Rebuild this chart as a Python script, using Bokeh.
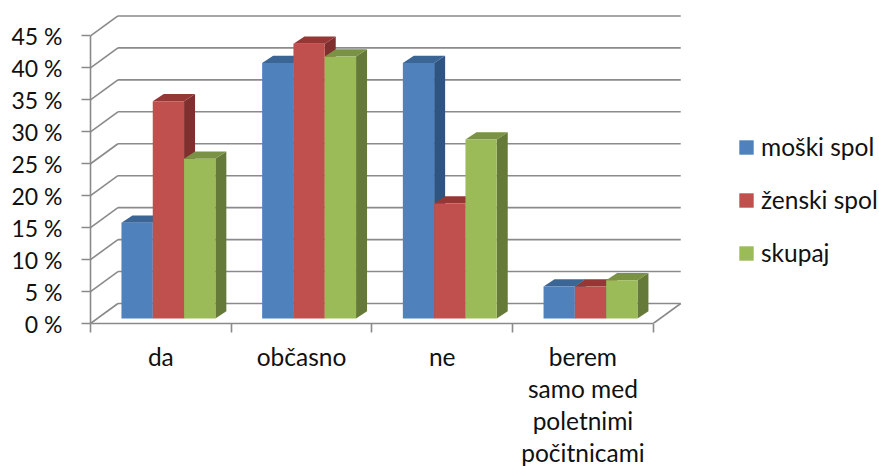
from bokeh.plotting import figure
from bokeh.models import Range1d, FixedTicker, Legend, LegendItem, LinearAxis
from bokeh.embed import file_html
from bokeh.resources import INLINE

# ---------- data ----------
categories = ["da", "občasno", "ne", "berem\nsamo med\npoletnimi\npočitnicami"]
series_names = ["moški spol", "ženski spol", "skupaj"]
moski = [15, 40, 40, 5]
zenski = [34, 43, 18, 5]
skupaj = [25, 41, 28, 6]
y_ticks = [0, 5, 10, 15, 20, 25, 30, 35, 40, 45]
y_labels = [f"{v} %" for v in y_ticks]

# ---------- style ----------
FONT = "Lato"
TXT = "#111111"
GRID = "#8a8a8a"
front_cols = ["#4F81BD", "#C0504D", "#9BBB59"]
top_cols = ["#3A6594", "#953735", "#7A9245"]
side_cols = ["#2F5480", "#7F302E", "#657A38"]

WALL_DX, WALL_DY = 0.195, 3.13      # oblique offset of the back wall
BAR_X0, BAR_Y0 = 0.22, 0.78         # bar base offset inside a category
BAR_W = 0.2225
BAR_DX, BAR_DY = 0.078, 1.14        # bar depth

p = figure(width=879, height=466, frame_width=605, frame_height=323,
           output_backend="svg", toolbar_location=None,
           x_range=Range1d(0, 4.3), y_range=Range1d(0, 50.55),
           x_axis_type=None, y_axis_type=None,
           min_border_left=90, min_border_right=0,
           min_border_top=0, min_border_bottom=0)
p.outline_line_color = None
p.background_fill_color = "white"
p.grid.visible = False

# walls
p.segment(x0=[WALL_DX] * len(y_ticks), x1=[4 + WALL_DX] * len(y_ticks),
          y0=[v + WALL_DY for v in y_ticks], y1=[v + WALL_DY for v in y_ticks],
          line_color=GRID, line_width=1.6)
p.segment(x0=[0] * len(y_ticks), x1=[WALL_DX] * len(y_ticks),
          y0=y_ticks, y1=[v + WALL_DY for v in y_ticks],
          line_color=GRID, line_width=1.6)
p.segment(x0=[4], x1=[4 + WALL_DX], y0=[0], y1=[WALL_DY], line_color=GRID, line_width=1.6)

# bars
legend_items = []
for s, vals in enumerate([moski, zenski, skupaj]):
    lefts = [c + BAR_X0 + s * BAR_W for c in range(len(vals))]
    rights = [x + BAR_W for x in lefts]
    base = BAR_Y0
    side_xs = [[r, r + BAR_DX, r + BAR_DX, r] for r in rights]
    side_ys = [[base, base + BAR_DY, base + v + BAR_DY, base + v] for v in vals]
    top_xs = [[l, l + BAR_DX, r + BAR_DX, r] for l, r in zip(lefts, rights)]
    top_ys = [[base + v, base + v + BAR_DY, base + v + BAR_DY, base + v] for v in vals]
    for i in range(len(vals)):
        p.patch(side_xs[i], side_ys[i], fill_color=side_cols[s], line_color=None)
        p.patch(top_xs[i], top_ys[i], fill_color=top_cols[s], line_color=None)
        front = p.quad(left=[lefts[i]], right=[rights[i]], bottom=[base], top=[base + vals[i]],
                       fill_color=front_cols[s], line_color=None)
        if i == 0:
            legend_items.append(LegendItem(label=series_names[s], renderers=[front]))

# axes
yax = LinearAxis(ticker=FixedTicker(ticks=y_ticks),
                 major_label_overrides={v: l for v, l in zip(y_ticks, y_labels)},
                 bounds=(0, 45), axis_line_color=GRID, axis_line_width=1.6,
                 major_tick_line_color=GRID, major_tick_line_width=1.6,
                 major_tick_in=0, major_tick_out=9, minor_tick_out=0, minor_tick_in=0,
                 major_label_standoff=19,
                 major_label_text_font=FONT, major_label_text_font_size="23px",
                 major_label_text_color=TXT)
p.add_layout(yax, "left")
x_ticks = [0, 1, 2, 3, 4]
xax = LinearAxis(ticker=FixedTicker(ticks=x_ticks),
                 major_label_overrides={v: "" for v in x_ticks},
                 bounds=(0, 4), axis_line_color=GRID, axis_line_width=1.6,
                 major_tick_line_color=GRID, major_tick_line_width=1.6,
                 major_tick_in=0, major_tick_out=9, minor_tick_out=0, minor_tick_in=0,
                 major_label_text_font_size="1px", major_label_standoff=0)
p.add_layout(xax, "below")

# category labels: one axis per text line, so the line pitch matches the reference
label_lines = [c.split("\n") for c in categories]
centres = [i + 0.5 for i in range(len(categories))]
for j in range(max(len(l) for l in label_lines)):
    over = {x: (l[j] if j < len(l) else "") for x, l in zip(centres, label_lines)}
    ax = LinearAxis(ticker=FixedTicker(ticks=centres), major_label_overrides=over,
                    axis_line_color=None, major_tick_line_color=None, minor_tick_line_color=None,
                    major_tick_in=0, major_tick_out=0, minor_tick_in=0, minor_tick_out=0,
                    major_label_standoff=9 if j == 0 else 0,
                    major_label_text_font=FONT, major_label_text_font_size="24.5px",
                    major_label_text_color=TXT)
    p.add_layout(ax, "below")

legend = Legend(items=legend_items, location=(42, 56),
                background_fill_alpha=0, border_line_color=None, padding=0, margin=0,
                glyph_width=18, glyph_height=18, label_height=15, spacing=24, label_standoff=6,
                label_text_font=FONT, label_text_font_size="24.5px", label_text_color=TXT)
p.add_layout(legend, "right")

open("out.html", "w").write(file_html(p, INLINE))
